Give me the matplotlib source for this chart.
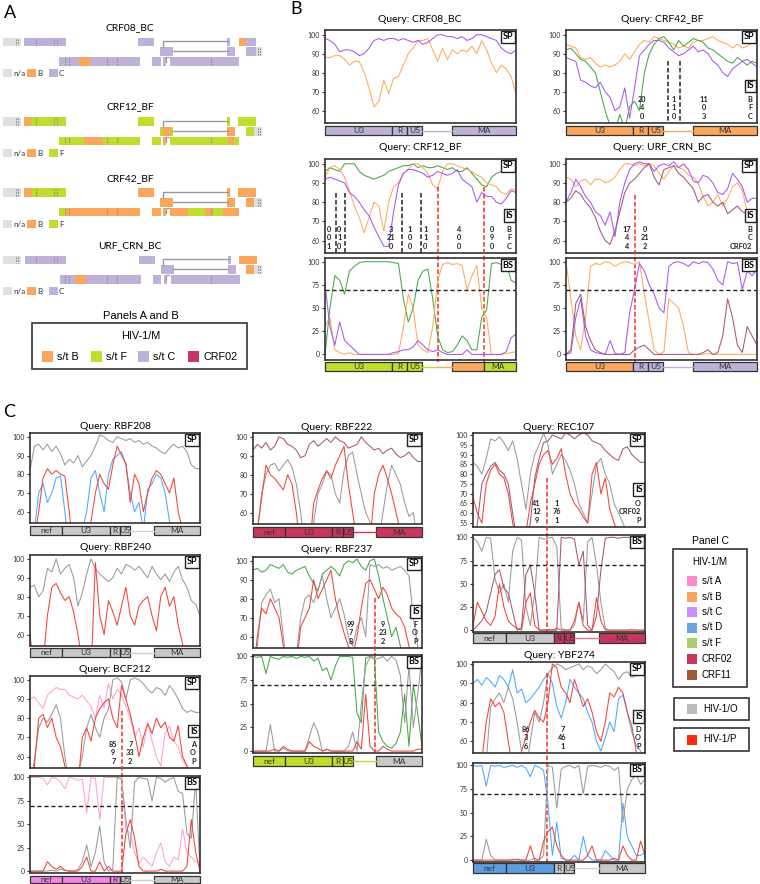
import matplotlib
matplotlib.use('Agg')
import matplotlib.pyplot as plt
from matplotlib.patches import Rectangle
import matplotlib.transforms as mtrans
import numpy as np

W, H = 760, 884
plt.rcParams['font.family'] = ['Lato', 'DejaVu Sans']

# ---------------- colours ----------------
MAPCOL = {'n': '#E0E0E0', 'B': '#F9A75C', 'F': '#BEDD2C', 'C': '#BEB2D8', 'CRF02': '#C7365F',
          'O': '#C8C8C8', 'A': '#F584E8', 'D': '#5E9EE0'}
LINECOL = {'B': '#FBAA5E', 'C': '#A855F5', 'F': '#45A845', 'CRF02': '#A5557F',
           'O': '#9A9A9A', 'P': '#F2433B', 'A': '#FFA0D2', 'D': '#4FA7FF'}

# ---------------- Panel A data ----------------
A_names = ['CRF08_BC', 'CRF12_BF', 'CRF42_BF', 'URF_CRN_BC']
A_segments = {
    'CRF08_BC': [(0, 3, 21, 'n'), (0, 24, 66, 'C'), (0, 138, 154, 'C'), (0, 227, 230, 'C'), (0, 239, 246, 'B'), (0, 246, 256, 'C'),
                 (1, 160, 173, 'C'), (1, 227, 235, 'C'), (1, 246, 256, 'C'), (1, 256, 262, 'n'),
                 (2, 59, 79, 'C'), (2, 79, 90, 'B'), (2, 90, 140, 'C'), (2, 152, 161, 'C'), (2, 163, 166, 'C'), (2, 170, 239, 'C')],
    'CRF12_BF': [(0, 3, 21, 'n'), (0, 24, 31, 'B'), (0, 31, 66, 'F'), (0, 138, 154, 'F'), (0, 227, 230, 'F'), (0, 238, 256, 'F'),
                 (1, 160, 163, 'F'), (1, 163, 171, 'B'), (1, 171, 173, 'F'), (1, 227, 235, 'B'), (1, 246, 254, 'F'), (1, 254, 262, 'n'),
                 (2, 59, 84, 'F'), (2, 84, 103, 'B'), (2, 103, 140, 'F'), (2, 152, 161, 'F'), (2, 163, 166, 'B'),
                 (2, 170, 228, 'F'), (2, 228, 234, 'B'), (2, 234, 239, 'F')],
    'CRF42_BF': [(0, 3, 21, 'n'), (0, 24, 32, 'B'), (0, 32, 66, 'F'), (0, 138, 154, 'B'), (0, 227, 230, 'B'), (0, 238, 256, 'B'),
                 (1, 160, 173, 'B'), (1, 227, 235, 'B'), (1, 246, 254, 'B'), (1, 254, 262, 'n'),
                 (2, 59, 66, 'F'), (2, 66, 140, 'B'), (2, 152, 161, 'B'), (2, 163, 166, 'B'),
                 (2, 170, 188, 'B'), (2, 188, 205, 'F'), (2, 205, 213, 'B'), (2, 213, 223, 'F'), (2, 223, 239, 'B')],
    'URF_CRN_BC': [(0, 3, 21, 'n'), (0, 25, 66, 'C'), (0, 139, 155, 'C'), (0, 228, 231, 'C'), (0, 239, 257, 'B'),
                   (1, 161, 174, 'C'), (1, 228, 236, 'C'), (1, 246, 254, 'B'), (1, 254, 262, 'n'),
                   (2, 60, 75, 'C'), (2, 75, 86, 'B'), (2, 86, 141, 'C'), (2, 153, 161, 'C'), (2, 164, 167, 'C'), (2, 171, 240, 'C')],
}
A_legend = {'CRF08_BC': ['n', 'B', 'C'], 'CRF12_BF': ['n', 'B', 'F'],
            'CRF42_BF': ['n', 'B', 'F'], 'URF_CRN_BC': ['n', 'B', 'C']}
A_dashes = [(0, 15.5), (0, 17.5), (0, 36), (0, 54), (0, 57), (2, 65), (2, 69), (2, 107), (2, 117), (2, 211), (1, 258), (1, 260)]

# ---------------- Panel B data ----------------
b1_C = [98, 97, 95, 91, 92, 92, 91, 89, 90, 93, 97, 98, 97, 98, 98, 97, 98, 97, 96, 97,
        95, 96, 98, 100, 100, 99, 99, 98, 99, 97, 98, 100, 100, 99, 98, 97, 93, 91, 90, 92]
b1_B = [88, 88, 89, 89, 87, 84, 86, 86, 80, 72, 62, 65, 76, 69, 77, 78, 84, 90, 93, 97,
        97, 98, 92, 86, 93, 87, 92, 90, 92, 91, 94, 90, 97, 92, 85, 80, 84, 82, 78, 69]

b2_B = [95, 94, 93, 88, 87, 88, 85, 83, 84, 83, 84, 86, 90, 87, 91, 95, 97, 96, 99, 98,
        97, 96, 95, 93, 94, 93, 96, 97, 97, 98, 99, 97, 96, 95, 93, 95, 93, 94, 96, 99]
b2_F = [92, 93, 90, 87, 86, 83, 80, 70, 60, 52, 50, 58, 50, 62, 65, 60, 80, 90, 95, 98,
        99, 96, 92, 97, 94, 96, 98, 97, 96, 93, 92, 90, 88, 86, 85, 88, 86, 84, 86, 85]
b2_C = [88, 87, 86, 76, 75, 73, 72, 75, 70, 67, 60, 62, 72, 56, 72, 89, 92, 95, 97, 97,
        96, 93, 91, 89, 90, 92, 94, 91, 92, 90, 86, 84, 80, 78, 82, 84, 86, 87, 85, 83]

b3_F = [96, 98, 97, 96, 100, 100, 100, 96, 94, 93, 92, 93, 94, 96, 97, 98, 99, 99, 100, 98,
        99, 98, 98, 99, 98, 97, 98, 96, 96, 98, 95, 92, 89, 88, 93, 95, 96, 98, 98, 99]
b3_B = [93, 98, 99, 97, 93, 86, 78, 72, 64, 72, 80, 78, 65, 80, 88, 90, 95, 97, 100, 100,
        98, 95, 89, 87, 96, 100, 100, 99, 98, 97, 96, 94, 93, 90, 89, 88, 85, 84, 87, 86]
b3_C = [92, 93, 92, 91, 90, 85, 83, 80, 76, 73, 67, 62, 57, 57, 75, 89, 95, 97, 97, 96,
        95, 93, 94, 96, 95, 94, 95, 97, 92, 90, 88, 80, 85, 83, 83, 80, 79, 82, 86, 85]
b3bs_F = [0, 50, 85, 80, 65, 90, 95, 99, 100, 100, 100, 100, 100, 100, 99, 98, 60, 35, 50, 80,
          90, 92, 60, 20, 5, 2, 3, 10, 20, 15, 5, 5, 40, 48, 98, 99, 97, 98, 80, 77]
b3bs_B = [30, 40, 5, 2, 0, 2, 0, 0, 0, 0, 0, 0, 0, 0, 0, 1, 30, 65, 50, 10,
          5, 2, 30, 80, 97, 99, 97, 98, 96, 70, 85, 96, 50, 40, 0, 0, 0, 1, 2, 3]
b3bs_C = [75, 30, 10, 35, 15, 10, 5, 0, 0, 0, 0, 0, 0, 0, 2, 3, 5, 5, 8, 15,
          10, 5, 3, 5, 2, 0, 0, 0, 0, 5, 0, 0, 0, 0, 0, 0, 0, 3, 18, 22]

b4_B = [93, 92, 88, 91, 92, 89, 92, 92, 90, 91, 93, 97, 100, 100, 99, 100, 99, 100, 99, 95,
        92, 96, 99, 98, 97, 94, 93, 90, 83, 78, 80, 84, 78, 82, 88, 90, 86, 75, 73, 72]
b4_C = [80, 85, 92, 88, 83, 80, 75, 73, 68, 75, 62, 80, 90, 97, 100, 101, 100, 100, 96, 99,
        100, 99, 101, 98, 100, 97, 91, 90, 94, 93, 90, 85, 84, 87, 95, 92, 88, 80, 82, 82]
b4_02 = [80, 82, 86, 84, 80, 77, 72, 65, 60, 58, 65, 75, 85, 90, 92, 95, 98, 100, 93, 89,
         97, 98, 99, 95, 93, 90, 87, 80, 83, 84, 80, 78, 80, 74, 76, 78, 75, 74, 70, 70]
b4bs_B = [100, 60, 20, 5, 40, 95, 98, 97, 100, 99, 95, 98, 100, 99, 97, 100, 65, 35, 5, 0,
          3, 60, 55, 50, 30, 2, 0, 0, 0, 1, 0, 0, 0, 0, 0, 0, 0, 0, 0, 0]
b4bs_C = [0, 2, 40, 60, 20, 5, 2, 1, 0, 15, 1, 0, 2, 45, 70, 98, 90, 75, 65, 50,
          45, 95, 99, 100, 98, 95, 100, 98, 100, 99, 92, 80, 75, 100, 98, 99, 70, 90, 85, 92]
b4bs_02 = [0, 5, 55, 65, 30, 15, 5, 2, 0, 0, 0, 0, 0, 0, 5, 8, 10, 5, 0, 0,
           0, 0, 0, 0, 0, 0, 0, 0, 2, 5, 0, 2, 20, 60, 40, 10, 2, 30, 20, 10]

# ---------------- Panel C data ----------------
c208_O = [82, 95, 96, 93, 96, 92, 95, 91, 85, 88, 86, 90, 84, 87, 90, 95, 101, 100, 98, 97,
          100, 99, 98, 99, 97, 98, 96, 97, 95, 94, 92, 91, 94, 96, 94, 95, 92, 85, 83, 83]
c208_P = [40, 45, 60, 78, 83, 80, 82, 80, 79, 60, 40, 35, 40, 45, 55, 70, 80, 75, 72, 85,
          95, 90, 86, 65, 80, 75, 60, 70, 78, 82, 80, 75, 70, 78, 60, 50, 40, 35, 30, 30]
c208_D = [55, 50, 70, 75, 65, 70, 78, 79, 60, 40, 35, 40, 50, 60, 78, 82, 70, 60, 80, 88,
          90, 92, 85, 70, 60, 65, 50, 72, 75, 80, 78, 70, 55, 45, 40, 35, 30, 30, 30, 30]

c240_O = [85, 86, 80, 83, 95, 93, 100, 92, 95, 97, 90, 75, 82, 92, 100, 95, 92, 90, 88, 90,
          95, 92, 97, 96, 94, 96, 93, 90, 96, 92, 89, 92, 88, 93, 96, 89, 85, 78, 76, 70]
c240_P = [60, 40, 35, 45, 70, 85, 87, 82, 78, 80, 72, 60, 45, 35, 40, 98, 70, 60, 78, 72,
          65, 75, 85, 70, 65, 75, 78, 80, 70, 62, 80, 85, 75, 80, 65, 55, 45, 40, 35, 35]

c212_A = [90, 91, 88, 85, 92, 94, 96, 95, 95, 92, 91, 90, 92, 89, 86, 80, 92, 85, 98, 90,
          95, 92, 86, 80, 70, 75, 65, 78, 68, 60, 55, 72, 76, 68, 65, 58, 55, 50, 48, 45]
c212_O = [45, 58, 75, 80, 78, 82, 87, 80, 60, 45, 40, 50, 60, 75, 82, 75, 70, 80, 85, 100,
          101, 99, 90, 100, 101, 100, 98, 95, 93, 96, 95, 92, 97, 94, 90, 85, 83, 84, 83, 83]
c212_P = [40, 55, 80, 82, 75, 80, 70, 65, 55, 40, 35, 45, 70, 75, 68, 80, 85, 88, 90, 80,
          75, 97, 90, 82, 72, 60, 70, 77, 72, 80, 75, 78, 70, 68, 76, 60, 55, 45, 40, 40]
c212bs_A = [100, 100, 100, 99, 92, 100, 99, 95, 88, 100, 99, 97, 98, 62, 100, 99, 55, 100, 100, 100,
            100, 99, 45, 40, 20, 8, 15, 10, 5, 20, 30, 10, 5, 15, 12, 45, 20, 15, 10, 10]
c212bs_O = [0, 0, 0, 0, 0, 1, 0, 2, 1, 0, 0, 2, 10, 28, 5, 20, 48, 10, 0, 2,
            100, 98, 55, 25, 95, 100, 99, 98, 75, 100, 99, 95, 98, 100, 85, 83, 40, 35, 97, 0]
c212bs_P = [0, 0, 0, 0, 10, 5, 2, 5, 1, 0, 0, 0, 5, 15, 0, 0, 10, 0, 5, 0,
            0, 0, 40, 55, 35, 5, 0, 0, 0, 0, 2, 0, 0, 0, 0, 0, 5, 55, 20, 0]

c222_02 = [93, 96, 94, 97, 93, 95, 100, 99, 96, 95, 93, 89, 90, 96, 98, 95, 97, 99, 97, 100,
           98, 97, 94, 95, 96, 100, 97, 95, 93, 94, 91, 93, 94, 91, 89, 90, 92, 89, 87, 87]
c222_O = [40, 50, 70, 80, 85, 86, 82, 85, 88, 84, 75, 60, 40, 35, 55, 70, 75, 82, 80, 70,
          65, 82, 90, 92, 80, 70, 60, 55, 50, 45, 60, 75, 85, 80, 75, 65, 58, 60, 45, 40]
c222_P = [40, 50, 68, 85, 80, 78, 75, 72, 80, 75, 60, 40, 30, 40, 65, 72, 78, 82, 78, 85,
          90, 95, 75, 60, 45, 50, 40, 45, 70, 80, 85, 78, 70, 60, 50, 45, 40, 35, 30, 30]

c237_F = [95, 96, 94, 95, 98, 97, 96, 98, 94, 93, 95, 96, 97, 92, 88, 84, 93, 95, 97, 95,
          92, 98, 100, 99, 101, 97, 95, 100, 101, 92, 80, 70, 60, 65, 55, 50, 45, 40, 40, 40]
c237_O = [40, 55, 78, 82, 85, 78, 80, 60, 40, 35, 50, 70, 80, 82, 78, 85, 92, 80, 70, 75,
          80, 72, 60, 55, 65, 70, 60, 98, 97, 98, 96, 97, 95, 96, 97, 95, 92, 70, 55, 45]
c237_P = [40, 60, 75, 72, 80, 75, 70, 55, 40, 35, 45, 65, 70, 75, 90, 80, 85, 90, 95, 80,
          70, 62, 55, 50, 60, 75, 88, 90, 85, 80, 86, 82, 75, 72, 70, 65, 55, 45, 40, 40]
c237bs_F = [100, 99, 100, 82, 100, 98, 97, 100, 99, 100, 98, 100, 99, 100, 95, 98, 85, 88, 75, 90,
            100, 100, 100, 99, 40, 30, 98, 100, 99, 20, 10, 5, 3, 8, 20, 60, 5, 70, 40, 5]
c237bs_O = [0, 0, 0, 0, 28, 0, 0, 3, 0, 0, 0, 0, 0, 15, 30, 20, 0, 2, 0, 0,
            0, 0, 5, 20, 0, 50, 90, 99, 97, 98, 100, 95, 100, 96, 80, 30, 90, 25, 60, 98]
c237bs_P = [0, 0, 0, 0, 0, 2, 0, 5, 2, 0, 0, 0, 0, 10, 5, 3, 0, 2, 0, 0,
            0, 0, 0, 0, 10, 2, 60, 5, 0, 0, 5, 2, 0, 0, 0, 0, 0, 0, 2, 2]

c107_O = [86, 84, 80, 88, 98, 97, 99, 96, 92, 97, 88, 75, 62, 80, 90, 95, 101, 95, 80, 85,
          90, 87, 82, 75, 65, 60, 55, 70, 85, 88, 80, 75, 65, 60, 55, 50, 45, 45, 45, 45]
c107_02 = [40, 55, 75, 80, 84, 86, 82, 80, 75, 60, 45, 40, 45, 55, 78, 88, 96, 97, 100, 99,
           98, 101, 100, 98, 100, 101, 100, 97, 96, 95, 92, 90, 88, 87, 93, 94, 90, 88, 86, 86]
c107_P = [68, 60, 55, 75, 82, 85, 80, 78, 70, 55, 45, 40, 50, 65, 75, 85, 90, 92, 85, 88,
          93, 80, 70, 65, 62, 58, 55, 80, 86, 70, 78, 62, 55, 50, 45, 45, 40, 40, 40, 40]
c107bs_O = [100, 95, 85, 100, 99, 55, 40, 50, 30, 85, 100, 97, 25, 5, 40, 100, 98, 99, 100, 90,
            2, 0, 0, 5, 30, 10, 95, 100, 70, 30, 2, 0, 0, 0, 0, 0, 1, 0, 0, 0]
c107bs_02 = [0, 5, 10, 20, 40, 60, 65, 45, 40, 20, 0, 3, 60, 70, 40, 0, 0, 1, 0, 0,
             100, 99, 100, 98, 70, 85, 5, 0, 15, 65, 99, 100, 100, 99, 100, 100, 100, 99, 100, 100]
c107bs_P = [5, 30, 20, 10, 5, 15, 50, 25, 10, 5, 2, 0, 30, 40, 5, 0, 0, 0, 0, 2,
            0, 0, 0, 10, 30, 5, 0, 0, 35, 10, 0, 0, 0, 0, 0, 0, 0, 0, 0, 0]

c274_D = [90, 92, 89, 93, 91, 88, 94, 92, 88, 97, 85, 87, 80, 82, 85, 88, 92, 95, 90, 78,
          72, 80, 92, 88, 85, 82, 75, 70, 60, 55, 62, 70, 65, 82, 84, 75, 65, 58, 55, 50]
c274_O = [55, 45, 40, 50, 78, 82, 85, 80, 88, 82, 70, 55, 45, 60, 75, 70, 80, 95, 98, 100,
          99, 97, 98, 99, 100, 97, 99, 98, 95, 97, 100, 98, 96, 92, 95, 96, 93, 94, 94, 94]
c274_P = [40, 45, 50, 70, 82, 78, 80, 75, 60, 45, 40, 55, 62, 70, 76, 72, 70, 80, 100, 98,
          88, 85, 80, 92, 85, 78, 82, 75, 65, 60, 70, 85, 83, 88, 85, 75, 68, 55, 45, 40]
c274bs_D = [100, 99, 100, 78, 100, 99, 100, 98, 99, 100, 98, 100, 97, 88, 100, 98, 95, 60, 5, 40,
            2, 0, 0, 5, 0, 25, 5, 0, 0, 0, 10, 5, 0, 0, 60, 25, 15, 5, 5, 8]
c274bs_O = [0, 0, 0, 22, 5, 0, 0, 0, 0, 1, 0, 0, 0, 0, 2, 0, 5, 100, 98, 55,
            96, 99, 100, 97, 100, 70, 99, 100, 99, 98, 100, 99, 95, 98, 40, 75, 85, 90, 80, 85]
c274bs_P = [0, 0, 0, 0, 0, 0, 0, 0, 0, 0, 1, 0, 0, 15, 0, 0, 20, 30, 35, 15,
            5, 0, 0, 0, 0, 0, 5, 15, 0, 0, 0, 0, 2, 0, 15, 5, 0, 0, 20, 5]

# ---------------- helpers ----------------
fig = plt.figure(figsize=(W / 100, H / 100), dpi=100)


def px_axes(x0, y0, x1, y1, **kw):
    return fig.add_axes([x0 / W, 1 - y1 / H, (x1 - x0) / W, (y1 - y0) / H], **kw)


def ftext(x, y, s, **kw):
    fig.text(x / W, 1 - y / H, s, **kw)


def style_axes(ax, ylim, yticks):
    ax.set_xlim(0, 1)
    ax.set_ylim(*ylim)
    ax.set_yticks(yticks)
    ax.set_xticks([])
    ax.tick_params(axis='y', labelsize=5, length=2.5, width=0.8, pad=1, colors='#333333')
    for s in ax.spines.values():
        s.set_linewidth(1.2)
        s.set_edgecolor('#333333')


def tag(ax, s, y=0.975, va='top'):
    ax.text(0.985, y, s, transform=ax.transAxes, ha='right', va=va, fontsize=6.5,
            fontweight='bold', zorder=10,
            bbox=dict(boxstyle='square,pad=0.18', fc='white', ec='#222222', lw=1.0))


def plot_lines(ax, series):
    for vals, key in series:
        x = np.linspace(0, 1, len(vals))
        ax.plot(x, vals, color=LINECOL[key], lw=0.75)


def sp_panel(rect, series, ylim=(53.5, 102.5), yticks=(60, 70, 80, 90, 100), is_info=None):
    ax = px_axes(*rect)
    style_axes(ax, ylim, list(yticks))
    plot_lines(ax, series)
    tag(ax, 'SP')
    if is_info is not None:
        tag(ax, 'IS', y=0.40, va='center')
        cols, labels = is_info
        for xf, txt in cols:
            ax.text(xf, 0.03, txt, transform=ax.transAxes, ha='center', va='bottom',
                    fontsize=5.3, fontweight='bold', linespacing=1.3, color='#222222')
        ax.text(0.975, 0.03, labels, transform=ax.transAxes, ha='right', va='bottom',
                fontsize=5.3, fontweight='bold', linespacing=1.3, color='#222222', zorder=11)
    return ax


def bs_panel(rect, series, ylim=(-6, 104)):
    ax = px_axes(*rect, facecolor='none')
    style_axes(ax, ylim, [0, 25, 50, 75, 100])
    plot_lines(ax, series)
    ax.axhline(70, color='#222222', lw=1.0, ls=(0, (3, 2)))
    tag(ax, 'BS')
    return ax


def vbreak(ax, xf, y_top_frac, y_bottom_px, color):
    tr = mtrans.blended_transform_factory(ax.transData, fig.transFigure)
    y0 = ax.get_position().y0 + y_top_frac * ax.get_position().height
    ax.plot([xf, xf], [y0, 1 - y_bottom_px / H], transform=tr, color=color,
            lw=1.1, ls=(0, (3, 1.5)), clip_on=False, zorder=20)


def gene_map(rect, segs, labels, conn, conn_cols):
    ax = px_axes(*rect)
    ax.set_xlim(0, 1)
    ax.set_ylim(0, 1)
    ax.axis('off')
    c0, c1 = conn
    if len(conn_cols) == 1:
        ax.plot([c0, c1], [0.5, 0.5], color=conn_cols[0], lw=1.0)
    else:
        cm = (c0 + c1) / 2
        ax.plot([c0, cm], [0.5, 0.5], color=conn_cols[0], lw=1.0)
        ax.plot([cm, c1], [0.5, 0.5], color=conn_cols[1], lw=1.0)
    for x0, x1, col in segs:
        ax.add_patch(Rectangle((x0, 0.02), x1 - x0, 0.96, fc=col, ec='#333333', lw=0.9,
                               clip_on=False))
    for txt, xc in labels:
        ax.text(xc, 0.45, txt, ha='center', va='center', fontsize=6, color='#333333')


# B-panel gene map geometry (fractions of window)
B_MAP_LABELS = [('U3', 0.176), ('R', 0.392), ('U5', 0.468), ('MA', 0.83)]
C_MAP_LABELS = [('nef', 0.095), ('U3', 0.33), ('R', 0.50), ('U5', 0.56), ('MA', 0.865)]


def bsegs(cu3, cr, cu5, cma):
    return [(0, 0.353, cu3), (0.353, 0.431, cr), (0.431, 0.506, cu5), (0.663, 1.0, cma)]


def csegs(cnef, cu3, cr, cu5, cma):
    return [(0, 0.19, cnef), (0.19, 0.47, cu3), (0.47, 0.53, cr), (0.53, 0.59, cu5), (0.73, 1.0, cma)]


# ---------------- Panel A drawing ----------------
axA = fig.add_axes([0, 0, 1, 1])
axA.set_xlim(0, W)
axA.set_ylim(H, 0)
axA.axis('off')

A_title_y = [28, 107, 179, 246]
A_row_y = [37.5, 117, 188, 255.5]
A_leg_y = [73, 153, 224, 291]
row_off = [0, 9.8, 19.6]
row_h = 8.8
for name, ty, ry, ly in zip(A_names, A_title_y, A_row_y, A_leg_y):
    axA.text(130, ty, name, ha='center', va='center', fontsize=7.4)
    # connectors
    axA.plot([163, 163, 228], [ry + row_off[1], ry + 3.5, ry + 3.5], color='#9a9a9a', lw=1.0)
    axA.plot([173, 228], [ry + 13.5, ry + 13.5], color='#9a9a9a', lw=1.0)
    axA.plot([166, 166, 169], [ry + row_off[2] + 5, ry + row_off[2], ry + row_off[2]], color='#9a9a9a', lw=0.8)
    for r, x0, x1, k in A_segments[name]:
        axA.add_patch(Rectangle((x0, ry + row_off[r]), x1 - x0, row_h, fc=MAPCOL[k], ec='none'))
    for r, xd in A_dashes:
        axA.plot([xd, xd], [ry + row_off[r] + 1, ry + row_off[r] + row_h - 1], color='#8c8c8c',
                 lw=0.8, ls=(0, (1.5, 1)))
    # legend
    lx = [3, 27, 49]
    ltx = [12, 36, 58]
    for k, x0, tx in zip(A_legend[name], lx, ltx):
        axA.add_patch(Rectangle((x0, ly - 4), 9, 8, fc=MAPCOL[k], ec='none'))
        axA.text(tx + 1, ly + 0.5, 'n/a' if k == 'n' else k, ha='left', va='center', fontsize=5.8,
                 color='#333333')

# Panels A and B legend
ABleg_labels = ['s/t B', 's/t F', 's/t C', 'CRF02']
ABleg_keys = ['B', 'F', 'C', 'CRF02']
ABleg_x = [42, 91, 138, 188]
LF = ['Liberation Sans', 'DejaVu Sans']
axA.text(141, 316, 'Panels A and B', ha='center', va='center', fontsize=8, family=LF)
axA.add_patch(Rectangle((32, 323), 215, 46, fc='none', ec='#333333', lw=1.2))
axA.text(141, 336, 'HIV-1/M', ha='center', va='center', fontsize=7.8, family=LF)
for lab, k, x0 in zip(ABleg_labels, ABleg_keys, ABleg_x):
    axA.add_patch(Rectangle((x0, 351), 11, 11, fc=MAPCOL[k], ec='none'))
    axA.text(x0 + 15, 357, lab, ha='left', va='center', fontsize=7.8, family=LF)

# Panel C legend
Cleg_labels = ['s/t A', 's/t B', 's/t C', 's/t D', 's/t F', 'CRF02', 'CRF11']
Cleg_cols = ['#F98CCB', '#F9A65A', '#C890F8', '#6BA3E0', '#AECB6E', '#C8365E', '#9E5A37']
Cleg_y = [581, 596.5, 612, 627.5, 643, 658.5, 675]
axA.text(710, 541, 'Panel C', ha='center', va='center', fontsize=7.5, family=LF)
axA.add_patch(Rectangle((673, 549), 74, 138, fc='none', ec='#333333', lw=1.2))
axA.text(710, 562, 'HIV-1/M', ha='center', va='center', fontsize=7, family=LF)
for lab, col, yy in zip(Cleg_labels, Cleg_cols, Cleg_y):
    axA.add_patch(Rectangle((687, yy - 5), 10, 10, fc=col, ec='none'))
    axA.text(702, yy, lab, ha='left', va='center', fontsize=7, family=LF)
for lab, col, (y0, y1) in zip(['HIV-1/O', 'HIV-1/P'], ['#BBBBBB', '#FF2A10'], [(698, 720), (728, 751)]):
    axA.add_patch(Rectangle((674, y0), 75, y1 - y0, fc='none', ec='#333333', lw=1.2))
    yy = (y0 + y1) / 2
    axA.add_patch(Rectangle((687, yy - 5), 10, 10, fc=col, ec='none'))
    axA.text(703, yy, lab, ha='left', va='center', fontsize=7, family=LF)

# panel letters
ftext(4, 13, 'A', fontsize=13, va='center')
ftext(290, 9, 'B', fontsize=13, va='center')
ftext(3, 412, 'C', fontsize=13, va='center')

# ---------------- Panel B drawing ----------------
MC = MAPCOL
# CRF08_BC
ftext(420, 20, 'Query: CRF08_BC', ha='center', va='center', fontsize=7.5)
sp_panel((325, 30, 516, 123), [(b1_B, 'B'), (b1_C, 'C')])
gene_map((325, 126, 516, 135), bsegs(MC['C'], MC['C'], MC['C'], MC['C']), B_MAP_LABELS, (0.506, 0.663), [MC['C']])

# CRF42_BF
ftext(662, 20, 'Query: CRF42_BF', ha='center', va='center', fontsize=7.5)
ax = sp_panel((566, 30, 757, 123), [(b2_B, 'B'), (b2_F, 'F'), (b2_C, 'C')],
              is_info=([(0.40, '20\n4\n0'), (0.565, '1\n1\n0'), (0.72, '11\n0\n3')], 'B\nF\nC'))
for xb in [0.535, 0.595]:
    vbreak(ax, xb, 0.67, 123, '#222222')
gene_map((566, 126, 757, 135), bsegs(MC['B'], MC['B'], MC['B'], MC['B']), B_MAP_LABELS, (0.506, 0.663), [MC['B']])

# CRF12_BF
ftext(420, 148, 'Query: CRF12_BF', ha='center', va='center', fontsize=7.5)
ax = sp_panel((325, 159, 516, 253), [(b3_F, 'F'), (b3_B, 'B'), (b3_C, 'C')],
              is_info=([(0.02, '0\n0\n1'), (0.075, '0\n1\n0'), (0.345, '3\n21\n0'), (0.445, '1\n0\n0'),
                        (0.525, '1\n1\n0'), (0.70, '4\n0\n0'), (0.875, '0\n9\n0')], 'B\nF\nC'))
for xb in [0.055, 0.105, 0.405, 0.5]:
    vbreak(ax, xb, 0.64, 253, '#222222')
for xb in [0.59, 0.83]:
    vbreak(ax, xb, 0.70, 362, '#F0321E')
bs_panel((325, 258, 516, 360), [(b3bs_F, 'F'), (b3bs_B, 'B'), (b3bs_C, 'C')])
gene_map((325, 362, 516, 371),
         [(0, 0.353, MC['F']), (0.353, 0.431, MC['F']), (0.431, 0.506, MC['F']),
          (0.663, 0.83, MC['B']), (0.83, 1.0, MC['F'])],
         [('U3', 0.176), ('R', 0.392), ('U5', 0.468), ('MA', 0.905)], (0.506, 0.663), [MC['F'], MC['B']])

# URF_CRN_BC
ftext(662, 148, 'Query: URF_CRN_BC', ha='center', va='center', fontsize=7.5)
ax = sp_panel((566, 159, 757, 253), [(b4_B, 'B'), (b4_C, 'C'), (b4_02, 'CRF02')],
              is_info=([(0.32, '17\n4\n4'), (0.415, '0\n21\n2')], 'B\nC\nCRF02'))
vbreak(ax, 0.36, 0.62, 362, '#F0321E')
bs_panel((566, 258, 757, 360), [(b4bs_B, 'B'), (b4bs_C, 'C'), (b4bs_02, 'CRF02')])
gene_map((566, 362, 757, 371), bsegs(MC['B'], MC['C'], MC['C'], MC['C']), B_MAP_LABELS, (0.506, 0.663), [MC['C']])

# ---------------- Panel C drawing ----------------
CY = (54, 102)
# column 1
ftext(115, 426, 'Query: RBF208', ha='center', va='center', fontsize=7.5)
sp_panel((30, 433, 200, 523), [(c208_O, 'O'), (c208_D, 'D'), (c208_P, 'P')], ylim=CY)
gene_map((30, 526, 200, 535), csegs(MC['O'], MC['O'], MC['O'], MC['O'], MC['O']), C_MAP_LABELS, (0.59, 0.73), ['#d0d0d0'])

ftext(115, 548, 'Query: RBF240', ha='center', va='center', fontsize=7.5)
sp_panel((30, 555, 200, 646), [(c240_O, 'O'), (c240_P, 'P')], ylim=CY)
gene_map((30, 648, 200, 657), csegs(MC['O'], MC['O'], MC['O'], MC['O'], MC['O']), C_MAP_LABELS, (0.59, 0.73), ['#d0d0d0'])

ftext(115, 669, 'Query: BCF212', ha='center', va='center', fontsize=7.5)
ax = sp_panel((30, 676, 200, 768), [(c212_A, 'A'), (c212_O, 'O'), (c212_P, 'P')], ylim=CY,
              is_info=([(0.49, '85\n9\n7'), (0.59, '7\n33\n2')], 'A\nO\nP'))
vbreak(ax, 0.54, 0.62, 873, '#F0321E')
bs_panel((30, 776, 200, 873), [(c212bs_A, 'A'), (c212bs_O, 'O'), (c212bs_P, 'P')], ylim=(-2, 101.5))
gene_map((30, 876, 200, 883), csegs(MC['A'], MC['A'], MC['A'], MC['O'], MC['O']), C_MAP_LABELS, (0.59, 0.73), ['#d0d0d0'])

# column 2
ftext(337, 427, 'Query: RBF222', ha='center', va='center', fontsize=7.5)
sp_panel((253, 433, 422, 524), [(c222_02, 'CRF02'), (c222_O, 'O'), (c222_P, 'P')], ylim=CY)
gene_map((253, 527, 422, 537), csegs(MC['CRF02'], MC['CRF02'], MC['CRF02'], MC['CRF02'], MC['CRF02']),
         C_MAP_LABELS, (0.597, 0.73), [MC['CRF02']])

ftext(337, 549, 'Query: RBF237', ha='center', va='center', fontsize=7.5)
ax = sp_panel((253, 557, 422, 648), [(c237_F, 'F'), (c237_O, 'O'), (c237_P, 'P')], ylim=CY,
              is_info=([(0.58, '99\n7\n8'), (0.77, '9\n23\n2')], 'F\nO\nP'))
vbreak(ax, 0.72, 0.55, 753, '#F0321E')
bs_panel((253, 655, 422, 753), [(c237bs_F, 'F'), (c237bs_O, 'O'), (c237bs_P, 'P')], ylim=(-2, 101.5))
gene_map((253, 756, 422, 766), csegs(MC['F'], MC['F'], MC['F'], MC['F'], MC['O']), C_MAP_LABELS, (0.59, 0.73), [MC['F']])

# column 3
ftext(559, 427, 'Query: REC107', ha='center', va='center', fontsize=7.5)
ax = sp_panel((473, 433, 645, 527), [(c107_O, 'O'), (c107_02, 'CRF02'), (c107_P, 'P')], ylim=(53, 101),
              yticks=(55, 60, 65, 70, 75, 80, 85, 90, 95, 100),
              is_info=([(0.37, '41\n12\n9'), (0.485, '1\n76\n1')], 'O\nCRF02\nP'))
vbreak(ax, 0.43, 0.52, 633, '#F0321E')
bs_panel((473, 535, 645, 632), [(c107bs_O, 'O'), (c107bs_02, 'CRF02'), (c107bs_P, 'P')], ylim=(-2, 102.5))
gene_map((473, 633, 645, 643), csegs(MC['O'], MC['O'], MC['CRF02'], MC['CRF02'], MC['CRF02']),
         C_MAP_LABELS, (0.59, 0.73), ['#d47a98'])

ftext(559, 656, 'Query: YBF274', ha='center', va='center', fontsize=7.5)
ax = sp_panel((473, 662, 645, 753), [(c274_D, 'D'), (c274_O, 'O'), (c274_P, 'P')], ylim=(54, 101),
              is_info=([(0.31, '86\n3\n6'), (0.52, '7\n46\n1')], 'D\nO\nP'))
vbreak(ax, 0.43, 0.88, 865, '#F0321E')
bs_panel((473, 763, 645, 862), [(c274bs_D, 'D'), (c274bs_O, 'O'), (c274bs_P, 'P')], ylim=(-2, 102.5))
gene_map((473, 863, 645, 873), csegs(MC['D'], MC['D'], MC['O'], MC['O'], MC['O']), C_MAP_LABELS, (0.59, 0.73), ['#d0d0d0'])

fig.savefig('out.png', dpi=100)
